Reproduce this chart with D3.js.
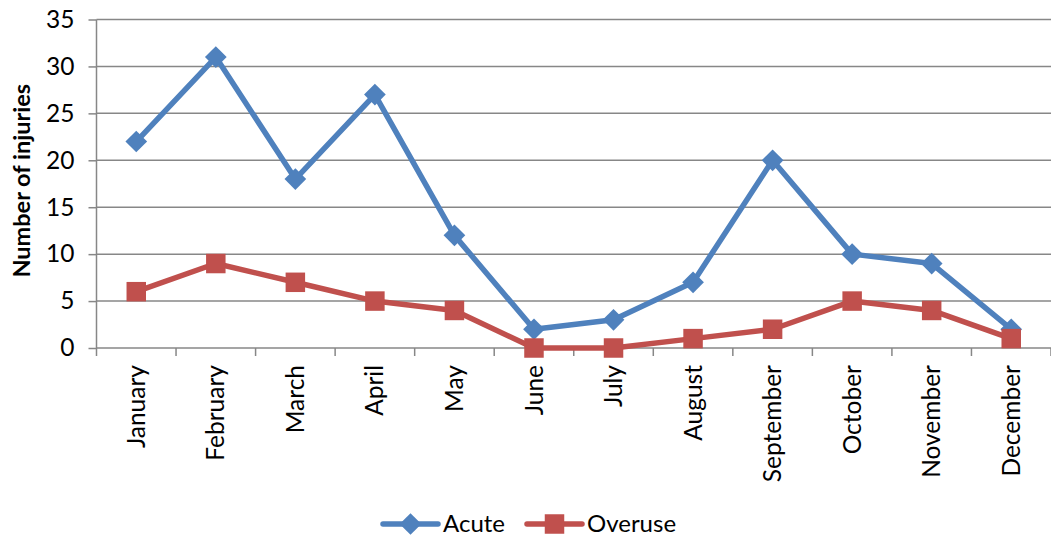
<!DOCTYPE html>
<html>
<head>
<meta charset="utf-8">
<script src="https://cdn.jsdelivr.net/npm/d3@7"></script>
<style>
  body { margin: 0; background: #fff; }
  svg { display: block; }
  text { font-family: Lato, "Open Sans", sans-serif; fill: #000; }
</style>
</head>
<body>
<svg id="chart" width="1051" height="539"></svg>
<script>
// Monthly injury counts
const months = ["January", "February", "March", "April", "May", "June",
                "July", "August", "September", "October", "November", "December"];
const acute   = [22, 31, 18, 27, 12, 2, 3, 7, 20, 10, 9, 2];
const overuse = [6, 9, 7, 5, 4, 0, 0, 1, 2, 5, 4, 1];
const yTicks  = [0, 5, 10, 15, 20, 25, 30, 35];

const seriesList = [
  { name: "Acute",   values: acute,   color: "#4F81BD", symbol: d3.symbolDiamond2 },
  { name: "Overuse", values: overuse, color: "#C0504D", symbol: d3.symbolSquare }
];

const svg = d3.select("#chart");
const W = 1051, H = 539;
const m = { left: 96.5, right: 0, top: 19.5, bottom: 191 };

const x = d3.scaleBand().domain(months).range([m.left, W - m.right]);
const y = d3.scaleLinear().domain([0, 35]).range([H - m.bottom, m.top]);

const gridColor = "#878787";

// Short ticks to the left of the axis with value labels
const yAxis = d3.axisLeft(y).tickValues(yTicks).tickSize(8).tickPadding(14);
const gy = svg.append("g").attr("transform", `translate(${m.left},0)`).call(yAxis);
gy.select(".domain").remove();
gy.selectAll(".tick line").attr("stroke", gridColor).attr("stroke-width", 1.5);
gy.selectAll(".tick text").style("font-size", "24.5px").attr("fill", "#000");

// Horizontal gridlines
svg.append("g").selectAll("line").data(yTicks).join("line")
  .attr("x1", m.left).attr("x2", W - m.right)
  .attr("y1", d => y(d)).attr("y2", d => y(d))
  .attr("stroke", gridColor).attr("stroke-width", 1.5);

// Vertical axis line
svg.append("line")
  .attr("x1", m.left).attr("x2", m.left)
  .attr("y1", m.top).attr("y2", y(0) + 8)
  .attr("stroke", gridColor).attr("stroke-width", 1.5);

// Category ticks at band boundaries
const bounds = months.map(d => x(d)).concat([x(months[months.length - 1]) + x.bandwidth()]);
svg.append("g").selectAll("line").data(bounds.slice(1)).join("line")
  .attr("x1", d => d).attr("x2", d => d)
  .attr("y1", y(0)).attr("y2", y(0) + 8)
  .attr("stroke", gridColor).attr("stroke-width", 1.5);

// Rotated month labels
svg.append("g").selectAll("text").data(months).join("text")
  .attr("transform", d => `translate(${x(d) + x.bandwidth() / 2},${y(0) + 17}) rotate(-90)`)
  .attr("text-anchor", "end")
  .attr("dy", "0.35em")
  .style("font-size", "24.5px")
  .text(d => d);

// Y axis title
svg.append("text")
  .attr("transform", `translate(22,${(y(0) + y(35)) / 2 - 3}) rotate(-90)`)
  .attr("text-anchor", "middle")
  .attr("dy", "0.35em")
  .style("font-size", "23.5px")
  .style("font-weight", "bold")
  .text("Number of injuries");

// Lines and markers
const line = d3.line()
  .x((d, i) => x(months[i]) + x.bandwidth() / 2)
  .y(d => y(d));

seriesList.forEach(s => {
  svg.append("path")
    .datum(s.values)
    .attr("fill", "none")
    .attr("stroke", s.color)
    .attr("stroke-width", 5.5)
    .attr("stroke-linejoin", "round")
    .attr("d", line);
});

seriesList.forEach(s => {
  const sym = d3.symbol().type(s.symbol).size(s.symbol === d3.symbolSquare ? 380 : 300);
  svg.append("g").selectAll("path").data(s.values).join("path")
    .attr("transform", (d, i) => `translate(${x(months[i]) + x.bandwidth() / 2},${y(d)})`)
    .attr("d", sym)
    .attr("fill", s.color);
});

// Legend
const legendY = 524;
const legendX = [383, 527];
seriesList.forEach((s, i) => {
  const g = svg.append("g").attr("transform", `translate(${legendX[i]},${legendY})`);
  g.append("line").attr("x1", 0).attr("x2", 55).attr("y1", 0).attr("y2", 0)
    .attr("stroke", s.color).attr("stroke-width", 5.5).attr("stroke-linecap", "round");
  g.append("path")
    .attr("transform", "translate(27.5,0)")
    .attr("d", d3.symbol().type(s.symbol).size(s.symbol === d3.symbolSquare ? 380 : 300))
    .attr("fill", s.color);
  g.append("text").attr("x", 60).attr("dy", "0.35em")
    .style("font-size", "24px").text(s.name);
});
</script>
</body>
</html>
